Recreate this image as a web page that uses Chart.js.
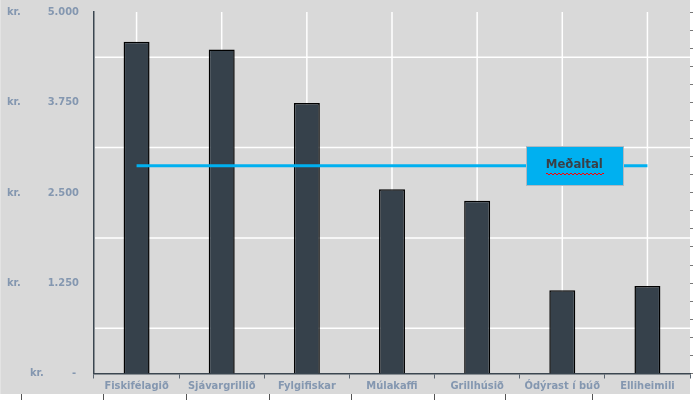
<!DOCTYPE html>
<html>
<head>
<meta charset="utf-8">
<script src="https://cdn.jsdelivr.net/npm/chart.js@4/dist/chart.umd.min.js"></script>
<style>
  html, body { margin: 0; padding: 0; background: #ffffff; }
  canvas { display: block; }
</style>
</head>
<body>
<canvas id="c" width="693" height="400"></canvas>
<script>
const categories = ['Fiskifélagið', 'Sjávargrillið', 'Fylgifiskar', 'Múlakaffi', 'Grillhúsið', 'Ódýrast í búð', 'Elliheimili'];
const prices = [4590, 4480, 3740, 2550, 2390, 1150, 1210];
const averageLabel = 'Meðaltal';
const averageValues = [2873, 2873, 2873, 2873, 2873, 2873, 2873];
const yTickValues = [0, 1250, 2500, 3750, 5000];
const yTickLabels = ['-', '1.250', '2.500', '3.750', '5.000'];
const currencyLabel = 'kr.';
const gridValues = [625, 1875, 3125, 4375];

const FONT = '"DejaVu Sans Condensed", "DejaVu Sans", sans-serif';
const LABEL_COLOR = '#8497b0';

const backgroundPlugin = {
  id: 'bg',
  beforeDraw(chart) {
    const ctx = chart.ctx;
    ctx.save();
    ctx.fillStyle = '#ffffff';
    ctx.fillRect(0, 0, chart.width, chart.height);
    ctx.fillStyle = '#d9d9d9';
    ctx.fillRect(0, 0, 690, 394);
    ctx.fillStyle = '#e3e3e3';
    ctx.fillRect(0, 0, 1, 394);
    ctx.strokeStyle = '#555555';
    ctx.lineWidth = 1;
    [21, 103, 186, 269, 351, 434, 505, 592].forEach(x => {
      ctx.beginPath();
      ctx.moveTo(x + 0.5, 394);
      ctx.lineTo(x + 0.5, 400);
      ctx.stroke();
    });
    ctx.restore();
  }
};

const gridPlugin = {
  id: 'grid',
  beforeDatasetsDraw(chart) {
    const ctx = chart.ctx;
    const a = chart.chartArea;
    const ys = chart.scales.y;
    const xs = chart.scales.x;
    ctx.save();
    ctx.strokeStyle = '#ffffff';
    ctx.lineWidth = 1.5;
    gridValues.forEach(v => {
      const y = ys.getPixelForValue(v);
      ctx.beginPath();
      ctx.moveTo(a.left + 1, y);
      ctx.lineTo(a.right, y);
      ctx.stroke();
    });
    categories.forEach((c, i) => {
      const x = xs.getPixelForValue(i);
      ctx.beginPath();
      ctx.moveTo(x, a.top);
      ctx.lineTo(x, a.bottom - 1);
      ctx.stroke();
    });
    ctx.restore();
  }
};

const labelPlugin = {
  id: 'labels',
  afterDraw(chart) {
    const ctx = chart.ctx;
    const ys = chart.scales.y;
    const xs = chart.scales.x;
    ctx.save();
    ctx.font = 'bold 11px ' + FONT;
    ctx.fillStyle = LABEL_COLOR;
    ctx.textBaseline = 'middle';
    yTickValues.forEach((v, i) => {
      const y = ys.getPixelForValue(v);
      if (v === 0) {
        ctx.textAlign = 'left';
        ctx.fillText(currencyLabel, 30, y);
        ctx.textAlign = 'right';
        ctx.fillText(yTickLabels[i], 76, y);
      } else {
        ctx.textAlign = 'left';
        ctx.fillText(currencyLabel, 7, y);
        ctx.textAlign = 'right';
        ctx.fillText(yTickLabels[i], 79, y);
      }
    });

    // average label box
    const cx = xs.getPixelForValue(5) + 12;
    const cy = ys.getPixelForValue(averageValues[5]);
    const w = 97, h = 39;
    const bx = Math.round(cx - w / 2) + 0.5, by = Math.round(cy - 20) + 0.5;
    ctx.fillStyle = '#00b0f0';
    ctx.fillRect(bx, by, w, h);
    ctx.strokeStyle = '#b0b8c0';
    ctx.lineWidth = 1;
    ctx.strokeRect(bx, by, w, h);
    ctx.font = 'bold 13px ' + FONT;
    ctx.fillStyle = '#3a3f46';
    ctx.textAlign = 'center';
    ctx.textBaseline = 'middle';
    ctx.fillText(averageLabel, cx, cy - 1);
    const tw = ctx.measureText(averageLabel).width;
    ctx.fillStyle = '#ff0000';
    let k = 0;
    for (let x = cx - tw / 2; x < cx + tw / 2; x += 2, k++) {
      ctx.fillRect(Math.round(x), Math.round(cy + 7) + (k % 2), 2, 1);
    }
    ctx.restore();
  }
};

new Chart(document.getElementById('c'), {
  data: {
    labels: categories,
    datasets: [
      {
        type: 'line',
        label: averageLabel,
        data: averageValues,
        borderColor: '#00b0f0',
        borderWidth: 3,
        pointRadius: 0,
        fill: false,
        order: 0
      },
      {
        type: 'bar',
        label: 'Verð',
        data: prices,
        backgroundColor: '#36414b',
        borderColor: '#000000',
        borderWidth: 1.5,
        barPercentage: 0.305,
        categoryPercentage: 1,
        order: 1
      }
    ]
  },
  options: {
    responsive: false,
    animation: false,
    layout: { padding: { top: 12, left: 0, right: 0, bottom: 0 } },
    plugins: { legend: { display: false }, tooltip: { enabled: false } },
    scales: {
      x: {
        type: 'category',
        offset: true,
        grid: { offset: true, drawOnChartArea: false, tickLength: 5, color: '#5a6570', lineWidth: 1 },
        border: { color: '#3b4650', width: 1.5 },
        ticks: { color: LABEL_COLOR, font: { family: FONT, size: 11, weight: 'bold' }, padding: 1, maxRotation: 0, autoSkip: false },
        afterFit(s) { s.height = 26.5; }
      },
      y: {
        type: 'linear',
        position: 'left',
        min: 0,
        max: 5000,
        ticks: { stepSize: 1250, display: false },
        grid: { display: false },
        border: { color: '#3b4650', width: 1.5 },
        afterFit(s) { s.width = 94; }
      },
      y2: {
        type: 'linear',
        position: 'right',
        min: 0,
        max: 5000,
        ticks: { stepSize: 250, display: false },
        grid: { drawOnChartArea: false, tickLength: 3, color: '#777777' },
        border: { display: false },
        afterFit(s) { s.width = 3; }
      }
    }
  },
  plugins: [backgroundPlugin, gridPlugin, labelPlugin]
});
</script>
</body>
</html>
